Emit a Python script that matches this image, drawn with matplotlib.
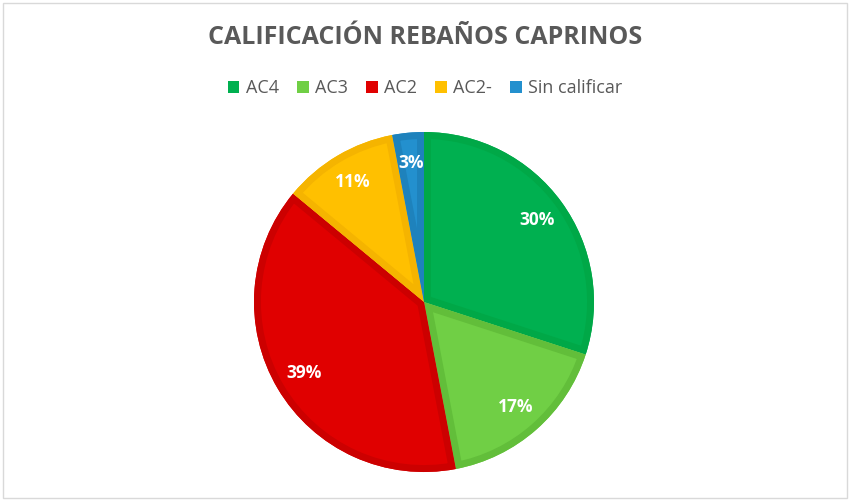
import matplotlib
matplotlib.use('Agg')
import matplotlib.pyplot as plt
from matplotlib.patches import Rectangle, Wedge

# datos
categorias = ['AC4', 'AC3', 'AC2', 'AC2-', 'Sin calificar']
porcentajes = [30, 17, 39, 11, 3]
colores = ['#00B050', '#70CF45', '#E00000', '#FFC000', '#2390CE']
bordes = ['#00A847', '#62BE3A', '#CC0000', '#F5B400', '#1E82BC']

plt.rcParams['font.family'] = ['Open Sans', 'DejaVu Sans']

fig = plt.figure(figsize=(8.5, 5), dpi=100)
fig.patches.append(Rectangle((0.003, 0.004), 0.994, 0.99, transform=fig.transFigure,
                             fill=False, edgecolor='#D9D9D9', linewidth=1))

ax = fig.add_axes([254 / 850, 28 / 500, 340 / 850, 340 / 500])
wedges, texts, autotexts = ax.pie(porcentajes, colors=colores, startangle=90,
                                  counterclock=False, autopct='%1.0f%%',
                                  pctdistance=0.82, radius=1,
                                  textprops=dict(color='white', fontsize=12.5, fontweight='bold'))
# borde interior mas oscuro (estilo Excel)
for w, b in zip(wedges, bordes):
    w.set_linewidth(0)
    borde = Wedge(w.center, w.r, w.theta1, w.theta2, facecolor='none',
                  edgecolor=b, linewidth=10, zorder=w.get_zorder() + 0.1)
    ax.add_patch(borde)
    borde.set_clip_path(w)
for t in autotexts:
    t.set_zorder(5)
ax.set_xlim(-1, 1)
ax.set_ylim(-1, 1)

fig.text(0.5, 0.926, 'CALIFICACIÓN REBAÑOS CAPRINOS', ha='center', va='center',
         fontsize=18, fontweight='bold', color='#595959')
fig.legend(wedges, categorias, loc='center', bbox_to_anchor=(0.5, 0.824), ncol=5,
           frameon=False, fontsize=13, labelcolor='#595959', handlelength=0.65,
           handleheight=0.65, handletextpad=0.35, columnspacing=1.0)

plt.savefig('out.png', dpi=100)
